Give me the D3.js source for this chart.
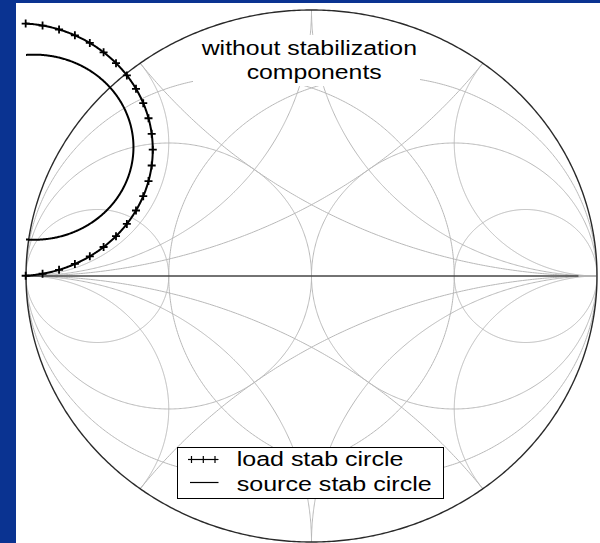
<!DOCTYPE html>
<html>
<head>
<meta charset="utf-8">
<script src="https://cdn.jsdelivr.net/npm/d3@7"></script>
<style>
  html, body { margin: 0; padding: 0; background: #0a3391; }
  svg { display: block; }
</style>
</head>
<body>
<svg id="chart" width="600" height="543"></svg>
<script>
// Smith chart grid values (normalised)
const resistances   = [1 / 3, 1, 3];
const conductances  = [1 / 3, 1, 3];
const reactances    = [0.5, 1, 2, -0.5, -1, -2];
const susceptances  = [0.5, 1, 2, -0.5, -1, -2];

// Stability circles in the reflection-coefficient plane: [re, im] centre and radius
const loadCenter   = [-1.031, 0.475];
const loadRadius   = 0.475;
const sourceCenter = [-0.9716, 0.4842];
const sourceRadius = 0.348;
// angular spacing of the "+" markers on the load circle (degrees)
const markerStepDeg = 7.2;

const titleLines   = ["without stabilization", "components"];
const legendLabels = ["load stab circle", "source stab circle"];

const svg = d3.select("#chart");
const W = 600, H = 543;

// reflection plane -> pixels
const x = d3.scaleLinear().domain([-1, 1]).range([26, 597]);
const y = d3.scaleLinear().domain([-1, 1]).range([542, 10]);

const line = d3.line().x(d => x(d[0])).y(d => y(d[1]));

function circlePoints(cx, cy, r, n = 720) {
  return d3.range(n + 1).map(i => {
    const t = (i / n) * 2 * Math.PI;
    return [cx + r * Math.cos(t), cy + r * Math.sin(t)];
  });
}

// white slide panel
svg.append("rect").attr("x", 16).attr("y", 3).attr("width", W - 16).attr("height", H - 3)
  .attr("fill", "#ffffff");

const defs = svg.append("defs");
defs.append("clipPath").attr("id", "unit")
  .append("ellipse")
  .attr("cx", x(0)).attr("cy", y(0))
  .attr("rx", x(1) - x(0)).attr("ry", y(0) - y(1));
defs.append("clipPath").attr("id", "axesBox")
  .append("rect")
  .attr("x", x(-1)).attr("y", y(1))
  .attr("width", x(1) - x(-1)).attr("height", y(-1) - y(1));

// grid circles
const grid = svg.append("g").attr("clip-path", "url(#unit)")
  .attr("fill", "none").attr("stroke", "#b8b8b8").attr("stroke-width", 1);

resistances.forEach(r => {
  grid.append("path").attr("d", line(circlePoints(r / (1 + r), 0, 1 / (1 + r))));
});
conductances.forEach(g => {
  grid.append("path").attr("d", line(circlePoints(-g / (1 + g), 0, 1 / (1 + g))));
});
reactances.forEach(xv => {
  grid.append("path").attr("d", line(circlePoints(1, 1 / xv, 1 / Math.abs(xv), 1440)));
});
susceptances.forEach(b => {
  grid.append("path").attr("d", line(circlePoints(-1, 1 / b, 1 / Math.abs(b), 1440)));
});

// real axis
svg.append("line")
  .attr("x1", x(-1)).attr("x2", x(1)).attr("y1", y(0)).attr("y2", y(0))
  .attr("stroke", "#b0b0b0").attr("stroke-width", 1);
svg.append("line")
  .attr("x1", x(-1)).attr("x2", x(0.935)).attr("y1", y(0)).attr("y2", y(0))
  .attr("stroke", "#111111").attr("stroke-width", 1.1);

// outer boundary |Γ| = 1
svg.append("path").attr("d", line(circlePoints(0, 0, 1)))
  .attr("fill", "none").attr("stroke", "#2a2a2a").attr("stroke-width", 1.4);

// title block
svg.append("rect").attr("x", 193).attr("y", 35).attr("width", 227).attr("height", 51)
  .attr("fill", "#ffffff");
const titleX = [201.7, 246.7], titleLen = [215.3, 135], titleY = [55, 78.5];
titleLines.forEach((t, i) => {
  svg.append("text")
    .attr("x", titleX[i]).attr("y", titleY[i])
    .attr("textLength", titleLen[i]).attr("lengthAdjust", "spacingAndGlyphs")
    .attr("font-family", "'Liberation Sans', Arial, sans-serif")
    .attr("font-size", 20).attr("fill", "#000")
    .text(t);
});

// stability circles
const stab = svg.append("g").attr("clip-path", "url(#axesBox)")
  .attr("fill", "none").attr("stroke", "#000");
stab.append("path").attr("d", line(circlePoints(loadCenter[0], loadCenter[1], loadRadius)))
  .attr("stroke-width", 2);
stab.append("path").attr("d", line(circlePoints(sourceCenter[0], sourceCenter[1], sourceRadius)))
  .attr("stroke-width", 2);

// "+" markers on the load circle
const nMarks = Math.round(360 / markerStepDeg);
const marks = d3.range(nMarks).map(k => {
  const t = k * markerStepDeg * Math.PI / 180;
  return [loadCenter[0] + loadRadius * Math.cos(t), loadCenter[1] + loadRadius * Math.sin(t)];
}).filter(p => p[0] >= -1.006 && p[0] <= 1 && p[1] <= 1 && p[1] >= -1);

const plus = (px, py, s) => `M${px - s},${py}H${px + s}M${px},${py - s}V${py + s}`;
svg.append("g").selectAll("path").data(marks).join("path")
  .attr("d", d => plus(x(d[0]), y(d[1]), 4))
  .attr("stroke", "#000").attr("stroke-width", 1.8).attr("fill", "none");

// legend
const lg = svg.append("g");
lg.append("rect").attr("x", 177.5).attr("y", 447.5).attr("width", 266).attr("height", 51)
  .attr("fill", "#fff").attr("stroke", "#000").attr("stroke-width", 1);
lg.append("line").attr("x1", 188).attr("x2", 218).attr("y1", 459.5).attr("y2", 459.5)
  .attr("stroke", "#000").attr("stroke-width", 1.2);
[191.5, 203.3, 215].forEach(px => {
  lg.append("path").attr("d", plus(px, 459.5, 3.5))
    .attr("stroke", "#000").attr("stroke-width", 1.2).attr("fill", "none");
});
lg.append("line").attr("x1", 190).attr("x2", 218.5).attr("y1", 482.5).attr("y2", 482.5)
  .attr("stroke", "#000").attr("stroke-width", 1.2);
const legY = [466, 490.5], legLen = [166.7, 195];
legendLabels.forEach((t, i) => {
  lg.append("text")
    .attr("x", 236.7).attr("y", legY[i])
    .attr("textLength", legLen[i]).attr("lengthAdjust", "spacingAndGlyphs")
    .attr("font-family", "'Liberation Sans', Arial, sans-serif")
    .attr("font-size", 20).attr("fill", "#000")
    .text(t);
});
</script>
</body>
</html>
